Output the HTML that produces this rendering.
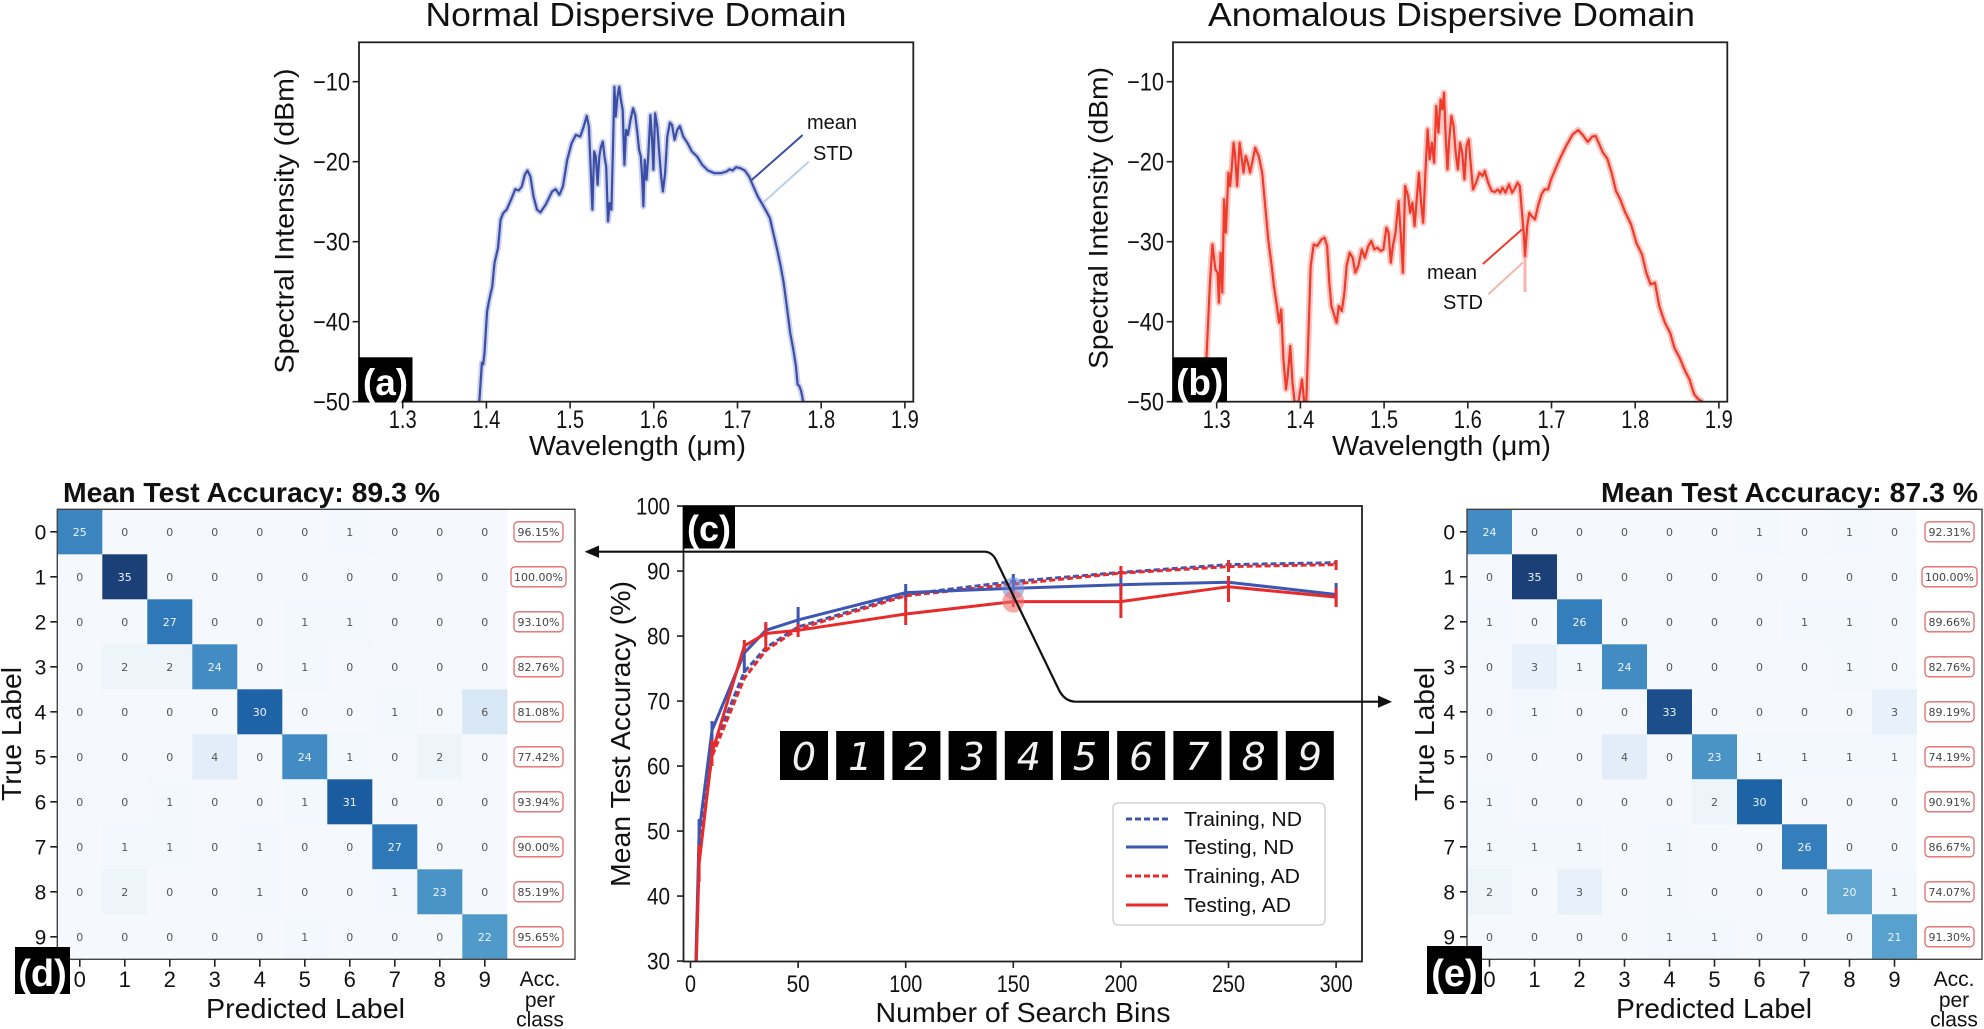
<!DOCTYPE html>
<html><head><meta charset="utf-8"><style>
html,body{margin:0;padding:0;background:#fff;overflow:hidden;width:1984px;height:1029px;}
svg{display:block;font-family:"Liberation Sans",Arial,sans-serif;}
</style></head><body>
<svg width="1984" height="1029" viewBox="0 0 1984 1029" xmlns="http://www.w3.org/2000/svg">
<defs>
<clipPath id="ca"><rect x="359" y="42.3" width="554" height="359.4"/></clipPath>
<clipPath id="cb"><rect x="1173" y="42.3" width="554" height="359.4"/></clipPath>
<clipPath id="cc"><rect x="684" y="506" width="677" height="455"/></clipPath>
</defs>
<rect width="1984" height="1029" fill="#fff"/>

<!-- ===== Panel (a) ===== -->
<text x="636" y="26" font-size="33" text-anchor="middle" textLength="421" lengthAdjust="spacingAndGlyphs" fill="#111">Normal Dispersive Domain</text>
<g clip-path="url(#ca)">
<polyline fill="none" stroke="#b9c1e6" stroke-width="6" stroke-opacity="0.7" stroke-linejoin="round" points="479.3,401.7 481.9,362.7 483.2,364.4 484.5,352.8 487.1,311.2 489.3,299.5 492.3,286.2 494.5,263 498,248 500.6,219.7 503.2,213.1 506.6,209.7 511,199.8 515.3,189.1 518.7,190.5 521.8,186.5 524.8,174.8 527.4,170.5 530.4,176.5 533.5,196.4 537,209.7 540.4,212.4 545.6,204.8 552.1,191.5 555.6,189.1 559.4,194.8 562.9,186.5 567.2,159.9 571.6,143.2 575.9,134.9 580.2,136.6 583.7,126.6 586.7,115.9 588.9,126.6 590.6,166.5 592.4,209.7 594.1,151.5 595.8,156.5 597.6,184.8 599.3,156.5 601,146.6 602.8,141.6 604.5,156.5 606.2,166.5 608,221.4 609.7,203.1 611.4,209.7 613.1,143.2 614.4,86.7 615.7,116.6 617.5,96.7 619.2,86.7 620.9,100 622.7,110 624.4,164.9 626.1,129.9 627.9,134.9 630.5,119.9 633.1,108.3 635.2,115 637.4,133.3 639.1,149.9 640.8,156.5 642.1,176.5 643.4,206.4 644.7,159.9 646.5,179.8 648.2,156.5 650.4,115 652.1,139.9 653.4,169.8 655.1,113.3 657.3,126.6 659,149.9 661.2,176.5 662.9,191.5 665.1,173.2 667.3,136.6 669.9,122.6 672,124.9 674.6,139.9 677.2,130 679.8,126 683.3,136.6 687.6,143.2 691.9,151.5 697.1,156.5 702.3,164.9 708,170.5 714.5,173.2 721,173.2 726.6,171.5 729.6,169.2 732.6,170.5 736.1,167.2 740.4,168.2 744.8,170.5 749.1,176.5 753.4,186.5 757.8,196.4 762.1,203.8 766.4,211.4 769.9,218.1 773.3,233 777.2,249.7 780.7,266.3 783.7,283 787.2,309.5 790.2,332.8 793.3,349.5 795.9,366.1 797.6,384.4 799.3,386 801.1,391 803.2,401.7"/>
<polyline fill="none" stroke="#3b4ea6" stroke-width="2.2" stroke-linejoin="round" points="479.3,401.7 481.9,362.7 483.2,364.4 484.5,352.8 487.1,311.2 489.3,299.5 492.3,286.2 494.5,263 498,248 500.6,219.7 503.2,213.1 506.6,209.7 511,199.8 515.3,189.1 518.7,190.5 521.8,186.5 524.8,174.8 527.4,170.5 530.4,176.5 533.5,196.4 537,209.7 540.4,212.4 545.6,204.8 552.1,191.5 555.6,189.1 559.4,194.8 562.9,186.5 567.2,159.9 571.6,143.2 575.9,134.9 580.2,136.6 583.7,126.6 586.7,115.9 588.9,126.6 590.6,166.5 592.4,209.7 594.1,151.5 595.8,156.5 597.6,184.8 599.3,156.5 601,146.6 602.8,141.6 604.5,156.5 606.2,166.5 608,221.4 609.7,203.1 611.4,209.7 613.1,143.2 614.4,86.7 615.7,116.6 617.5,96.7 619.2,86.7 620.9,100 622.7,110 624.4,164.9 626.1,129.9 627.9,134.9 630.5,119.9 633.1,108.3 635.2,115 637.4,133.3 639.1,149.9 640.8,156.5 642.1,176.5 643.4,206.4 644.7,159.9 646.5,179.8 648.2,156.5 650.4,115 652.1,139.9 653.4,169.8 655.1,113.3 657.3,126.6 659,149.9 661.2,176.5 662.9,191.5 665.1,173.2 667.3,136.6 669.9,122.6 672,124.9 674.6,139.9 677.2,130 679.8,126 683.3,136.6 687.6,143.2 691.9,151.5 697.1,156.5 702.3,164.9 708,170.5 714.5,173.2 721,173.2 726.6,171.5 729.6,169.2 732.6,170.5 736.1,167.2 740.4,168.2 744.8,170.5 749.1,176.5 753.4,186.5 757.8,196.4 762.1,203.8 766.4,211.4 769.9,218.1 773.3,233 777.2,249.7 780.7,266.3 783.7,283 787.2,309.5 790.2,332.8 793.3,349.5 795.9,366.1 797.6,384.4 799.3,386 801.1,391 803.2,401.7"/>
</g>
<rect x="359" y="42.3" width="554.3" height="359.4" fill="none" stroke="#222" stroke-width="1.8"/>
<path d="M352.5 81.7H359M352.5 161.7H359M352.5 241.7H359M352.5 321.7H359M352.5 401.7H359M402.7 401.7V408.5M486.4 401.7V408.5M570.1 401.7V408.5M653.8 401.7V408.5M737.5 401.7V408.5M821.2 401.7V408.5M904.9 401.7V408.5" stroke="#222" stroke-width="1.6"/>
<g font-size="25" fill="#111" text-anchor="end">
<text x="350" y="90.5" textLength="37" lengthAdjust="spacingAndGlyphs">−10</text>
<text x="350" y="170.5" textLength="37" lengthAdjust="spacingAndGlyphs">−20</text>
<text x="350" y="250.5" textLength="37" lengthAdjust="spacingAndGlyphs">−30</text>
<text x="350" y="330.5" textLength="37" lengthAdjust="spacingAndGlyphs">−40</text>
<text x="350" y="410.5" textLength="37" lengthAdjust="spacingAndGlyphs">−50</text>
</g>
<g font-size="25" fill="#111" text-anchor="middle">
<text x="402.7" y="428" textLength="28" lengthAdjust="spacingAndGlyphs">1.3</text>
<text x="486.4" y="428" textLength="28" lengthAdjust="spacingAndGlyphs">1.4</text>
<text x="570.1" y="428" textLength="28" lengthAdjust="spacingAndGlyphs">1.5</text>
<text x="653.8" y="428" textLength="28" lengthAdjust="spacingAndGlyphs">1.6</text>
<text x="737.5" y="428" textLength="28" lengthAdjust="spacingAndGlyphs">1.7</text>
<text x="821.2" y="428" textLength="28" lengthAdjust="spacingAndGlyphs">1.8</text>
<text x="904.9" y="428" textLength="28" lengthAdjust="spacingAndGlyphs">1.9</text>
</g>
<text x="637.5" y="455" font-size="28" text-anchor="middle" textLength="217" lengthAdjust="spacingAndGlyphs" fill="#111">Wavelength (μm)</text>
<text transform="translate(293.5,221) rotate(-90)" font-size="27" text-anchor="middle" textLength="305" lengthAdjust="spacingAndGlyphs" fill="#111">Spectral Intensity (dBm)</text>
<rect x="358.5" y="357.3" width="54" height="44.4" fill="#000"/>
<text x="385.5" y="395" font-size="37" font-weight="bold" fill="#fff" text-anchor="middle">(a)</text>
<line x1="751.7" y1="180" x2="802.7" y2="135" stroke="#3b4ea6" stroke-width="2"/>
<line x1="763.5" y1="202.4" x2="808.9" y2="161.5" stroke="#b7d2ea" stroke-width="2"/>
<text x="807" y="129" font-size="20" fill="#111">mean</text>
<text x="813" y="160" font-size="20" fill="#111">STD</text>

<!-- ===== Panel (b) ===== -->
<text x="1451.5" y="26" font-size="33" text-anchor="middle" textLength="487" lengthAdjust="spacingAndGlyphs" fill="#111">Anomalous Dispersive Domain</text>
<g clip-path="url(#cb)">
<polyline fill="none" stroke="#f7b3ac" stroke-width="6.5" stroke-opacity="0.75" stroke-linejoin="round" points="1204.6,401.7 1206.7,352.7 1209.8,286 1212.4,244.4 1215.4,269.4 1217.6,272.7 1218.9,302.7 1220.6,252.7 1222.3,292.7 1224.1,199.4 1225.8,232.7 1228.4,172.7 1230.1,186 1231.9,166 1233.6,142.7 1234.9,152.7 1237.1,186 1239.6,142.7 1241.4,156 1243.5,172.7 1245.7,156 1247.9,162.7 1250,172.7 1252.2,162.7 1255.2,147.7 1258.7,156 1262.2,172.7 1265.2,206 1268.2,239.4 1271.7,266 1273.9,286 1276.9,306 1279.1,322.7 1281.2,309.4 1283.4,359.4 1286,389.4 1287.7,376 1290.3,346 1292.5,382.7 1294.6,401.7 1298.5,401.7 1302,379.4 1304.2,401.7 1306.3,401.7 1308.5,332.7 1310.7,266 1313.7,244.4 1317.2,246 1321.5,239.4 1324.5,237.7 1327.1,246 1329.3,282.7 1331.4,306 1334.5,316 1336.6,322.7 1338.8,306 1341.8,311 1344.4,292.7 1346.6,266 1349.6,252.7 1352.7,257.7 1355.3,272.7 1358.3,266 1361.8,249.4 1364.8,257.7 1368.3,246 1371.3,241 1374.3,249.4 1377.3,247.7 1380.8,251 1383.4,249.4 1386.4,227.7 1388.6,232.7 1390.8,262.7 1392.9,246 1395.5,232.7 1398.6,201 1400.7,232.7 1402.9,272.7 1405.1,186 1408.1,196 1410.2,212.7 1412.4,202.7 1414.6,226 1416.7,199.4 1418.9,172.7 1421.1,202.7 1423.2,222.7 1425.4,172.7 1427.6,129.4 1429.7,159.4 1431.9,142.7 1434.1,162.7 1436.2,106 1438.4,132.7 1440.6,99.4 1442.3,109.4 1444,92.7 1445.8,139.4 1447.5,169.4 1449.2,139.4 1451.4,116 1453.6,126 1455.7,152.7 1457.9,169.4 1460,142.7 1462.2,152.7 1464.4,179.4 1466.5,146 1468.7,139.4 1470.9,166 1473,189.4 1476.1,182.7 1479.5,172.7 1482.6,176 1484.7,171 1488.2,182.7 1491.6,191 1494.7,192 1497.7,189.4 1500.3,192.7 1502.5,187.7 1505.5,192.7 1509,184.4 1512,192.7 1514.2,189.4 1517.6,182.7 1519.8,186 1522,212.7 1523.7,232.7 1525,256 1527.2,226 1529.3,212.7 1531.5,216 1535,219.4 1538,206 1541.5,194.4 1544.5,189.4 1548,189.4 1551,179.4 1555.3,169.4 1559.6,159.4 1566.1,146 1572.6,134.4 1578.3,130 1583.5,136 1587.8,142 1592.1,136.7 1595.6,136 1598.6,142.7 1603,152.7 1607.3,158.7 1611.6,172.7 1616,191 1620.3,199.4 1624.6,211 1631.1,224.4 1636.3,242.7 1642,254.4 1646.3,272.7 1650.6,284.4 1655,282.7 1659.2,306 1664.9,322.7 1670.1,332.7 1674.4,347.7 1679.6,357.7 1685.2,371 1689.5,379.4 1694.2,394.4 1698.5,399.4 1702.8,401.7"/>
<line x1="1525" y1="240" x2="1525" y2="292" stroke="#f7b3ac" stroke-width="3"/>
<polyline fill="none" stroke="#ee3b2c" stroke-width="2.2" stroke-linejoin="round" points="1204.6,401.7 1206.7,352.7 1209.8,286 1212.4,244.4 1215.4,269.4 1217.6,272.7 1218.9,302.7 1220.6,252.7 1222.3,292.7 1224.1,199.4 1225.8,232.7 1228.4,172.7 1230.1,186 1231.9,166 1233.6,142.7 1234.9,152.7 1237.1,186 1239.6,142.7 1241.4,156 1243.5,172.7 1245.7,156 1247.9,162.7 1250,172.7 1252.2,162.7 1255.2,147.7 1258.7,156 1262.2,172.7 1265.2,206 1268.2,239.4 1271.7,266 1273.9,286 1276.9,306 1279.1,322.7 1281.2,309.4 1283.4,359.4 1286,389.4 1287.7,376 1290.3,346 1292.5,382.7 1294.6,401.7 1298.5,401.7 1302,379.4 1304.2,401.7 1306.3,401.7 1308.5,332.7 1310.7,266 1313.7,244.4 1317.2,246 1321.5,239.4 1324.5,237.7 1327.1,246 1329.3,282.7 1331.4,306 1334.5,316 1336.6,322.7 1338.8,306 1341.8,311 1344.4,292.7 1346.6,266 1349.6,252.7 1352.7,257.7 1355.3,272.7 1358.3,266 1361.8,249.4 1364.8,257.7 1368.3,246 1371.3,241 1374.3,249.4 1377.3,247.7 1380.8,251 1383.4,249.4 1386.4,227.7 1388.6,232.7 1390.8,262.7 1392.9,246 1395.5,232.7 1398.6,201 1400.7,232.7 1402.9,272.7 1405.1,186 1408.1,196 1410.2,212.7 1412.4,202.7 1414.6,226 1416.7,199.4 1418.9,172.7 1421.1,202.7 1423.2,222.7 1425.4,172.7 1427.6,129.4 1429.7,159.4 1431.9,142.7 1434.1,162.7 1436.2,106 1438.4,132.7 1440.6,99.4 1442.3,109.4 1444,92.7 1445.8,139.4 1447.5,169.4 1449.2,139.4 1451.4,116 1453.6,126 1455.7,152.7 1457.9,169.4 1460,142.7 1462.2,152.7 1464.4,179.4 1466.5,146 1468.7,139.4 1470.9,166 1473,189.4 1476.1,182.7 1479.5,172.7 1482.6,176 1484.7,171 1488.2,182.7 1491.6,191 1494.7,192 1497.7,189.4 1500.3,192.7 1502.5,187.7 1505.5,192.7 1509,184.4 1512,192.7 1514.2,189.4 1517.6,182.7 1519.8,186 1522,212.7 1523.7,232.7 1525,256 1527.2,226 1529.3,212.7 1531.5,216 1535,219.4 1538,206 1541.5,194.4 1544.5,189.4 1548,189.4 1551,179.4 1555.3,169.4 1559.6,159.4 1566.1,146 1572.6,134.4 1578.3,130 1583.5,136 1587.8,142 1592.1,136.7 1595.6,136 1598.6,142.7 1603,152.7 1607.3,158.7 1611.6,172.7 1616,191 1620.3,199.4 1624.6,211 1631.1,224.4 1636.3,242.7 1642,254.4 1646.3,272.7 1650.6,284.4 1655,282.7 1659.2,306 1664.9,322.7 1670.1,332.7 1674.4,347.7 1679.6,357.7 1685.2,371 1689.5,379.4 1694.2,394.4 1698.5,399.4 1702.8,401.7"/>
</g>
<rect x="1173" y="42.3" width="554.3" height="359.4" fill="none" stroke="#222" stroke-width="1.8"/>
<path d="M1166.5 81.7H1173M1166.5 161.7H1173M1166.5 241.7H1173M1166.5 321.7H1173M1166.5 401.7H1173M1216.7 401.7V408.5M1300.4 401.7V408.5M1384.1 401.7V408.5M1467.8 401.7V408.5M1551.5 401.7V408.5M1635.2 401.7V408.5M1718.9 401.7V408.5" stroke="#222" stroke-width="1.6"/>
<g font-size="25" fill="#111" text-anchor="end">
<text x="1164" y="90.5" textLength="37" lengthAdjust="spacingAndGlyphs">−10</text>
<text x="1164" y="170.5" textLength="37" lengthAdjust="spacingAndGlyphs">−20</text>
<text x="1164" y="250.5" textLength="37" lengthAdjust="spacingAndGlyphs">−30</text>
<text x="1164" y="330.5" textLength="37" lengthAdjust="spacingAndGlyphs">−40</text>
<text x="1164" y="410.5" textLength="37" lengthAdjust="spacingAndGlyphs">−50</text>
</g>
<g font-size="25" fill="#111" text-anchor="middle">
<text x="1216.7" y="428" textLength="28" lengthAdjust="spacingAndGlyphs">1.3</text>
<text x="1300.4" y="428" textLength="28" lengthAdjust="spacingAndGlyphs">1.4</text>
<text x="1384.1" y="428" textLength="28" lengthAdjust="spacingAndGlyphs">1.5</text>
<text x="1467.8" y="428" textLength="28" lengthAdjust="spacingAndGlyphs">1.6</text>
<text x="1551.5" y="428" textLength="28" lengthAdjust="spacingAndGlyphs">1.7</text>
<text x="1635.2" y="428" textLength="28" lengthAdjust="spacingAndGlyphs">1.8</text>
<text x="1718.9" y="428" textLength="28" lengthAdjust="spacingAndGlyphs">1.9</text>
</g>
<text x="1441.5" y="455" font-size="28" text-anchor="middle" textLength="219" lengthAdjust="spacingAndGlyphs" fill="#111">Wavelength (μm)</text>
<text transform="translate(1107.5,218) rotate(-90)" font-size="27" text-anchor="middle" textLength="302" lengthAdjust="spacingAndGlyphs" fill="#111">Spectral Intensity (dBm)</text>
<rect x="1172.5" y="357.3" width="54.5" height="44.4" fill="#000"/>
<text x="1199.7" y="395" font-size="37" font-weight="bold" fill="#fff" text-anchor="middle">(b)</text>
<line x1="1482.9" y1="264" x2="1522" y2="229.4" stroke="#ee3b2c" stroke-width="2"/>
<line x1="1488.3" y1="294.3" x2="1522.9" y2="262.5" stroke="#f5b5ae" stroke-width="2"/>
<text x="1427" y="279" font-size="20" fill="#111">mean</text>
<text x="1443" y="309" font-size="20" fill="#111">STD</text>

<!-- ===== Panel (c) ===== -->
<g clip-path="url(#cc)">
<g fill="#000">
<rect x="780" y="731" width="48" height="49"/><rect x="836.2" y="731" width="48" height="49"/><rect x="892.4" y="731" width="48" height="49"/><rect x="948.6" y="731" width="48" height="49"/><rect x="1004.8" y="731" width="48" height="49"/><rect x="1061" y="731" width="48" height="49"/><rect x="1117.2" y="731" width="48" height="49"/><rect x="1173.4" y="731" width="48" height="49"/><rect x="1229.6" y="731" width="48" height="49"/><rect x="1285.8" y="731" width="48" height="49"/>
</g>
<g fill="#f2f2f2" font-family="'DejaVu Sans',sans-serif" font-size="38" font-style="oblique" text-anchor="middle">
<text x="804" y="770">0</text><text x="860.2" y="770">1</text><text x="916.4" y="770">2</text><text x="972.6" y="770">3</text><text x="1028.8" y="770">4</text><text x="1085" y="770">5</text><text x="1141.2" y="770">6</text><text x="1197.4" y="770">7</text><text x="1253.6" y="770">8</text><text x="1309.8" y="770">9</text>
</g>
<polyline fill="none" stroke="#3d56b2" stroke-width="3" stroke-dasharray="6,3" points="696.1,961.1 699.1,844.1 712,749.9 744.3,671.9 765.8,647.8 798.1,627 905.7,594.5 1013.3,581.5 1120.9,572.4 1228.5,564.6 1336.1,562.7"/>
<polyline fill="none" stroke="#e82a2a" stroke-width="3" stroke-dasharray="6,3" points="696.2,961.1 699.1,857.1 712,756.3 744.3,678.4 765.8,650.4 798.1,628.9 905.7,595.8 1013.3,584.1 1120.9,573.1 1228.5,566.6 1336.1,564.6"/>
<polyline fill="none" stroke="#3d56b2" stroke-width="3" points="695.9,961.1 699.1,832.4 712,730.4 744.3,653 765.8,630.3 798.1,619.9 905.7,592.6 1013.3,588.3 1120.9,584.7 1228.5,582.2 1336.1,594.5"/>
<polyline fill="none" stroke="#e82a2a" stroke-width="3" points="696.3,961.1 699.1,863.6 712,753.1 744.3,645.9 765.8,633.5 798.1,630.3 905.7,614 1013.3,601.6 1120.9,601.6 1228.5,586.7 1336.1,597.1"/>
<path d="M699.1 819V846M712 721V740M744.3 646V673M765.8 624V637M798.1 607V633M905.7 584V601M1013.3 578V598M1120.9 575V595M1228.5 579V586M1336.1 583V606M1013.3 574V590" stroke="#3d56b2" stroke-width="3"/>
<path d="M699.1 845V882M712 740V766M744.3 640V652M765.8 622V652M798.1 624V637M905.7 597V625M1013.3 596V607M1120.9 584V618M1228.5 576V602M1336.1 588V607M1336.1 560V570M1228.5 560V572M1120.9 566V578" stroke="#e82a2a" stroke-width="3"/>
<circle cx="1013.3" cy="588.3" r="11" fill="#6f86d2" fill-opacity="0.55"/>
<circle cx="1013.3" cy="601.6" r="11" fill="#f07070" fill-opacity="0.6"/>
</g>
<rect x="1113" y="803" width="212" height="122" rx="5" fill="#fff" fill-opacity="0.9" stroke="#d4d4d4" stroke-width="1.5"/>
<line x1="1126" y1="819" x2="1168" y2="819" stroke="#3d56b2" stroke-width="3" stroke-dasharray="6,3"/>
<line x1="1126" y1="847" x2="1168" y2="847" stroke="#3d56b2" stroke-width="3"/>
<line x1="1126" y1="876" x2="1168" y2="876" stroke="#e82a2a" stroke-width="3" stroke-dasharray="6,3"/>
<line x1="1126" y1="905" x2="1168" y2="905" stroke="#e82a2a" stroke-width="3"/>
<g font-size="20" fill="#111">
<text x="1184" y="826" textLength="118" lengthAdjust="spacingAndGlyphs">Training, ND</text>
<text x="1184" y="854" textLength="110" lengthAdjust="spacingAndGlyphs">Testing, ND</text>
<text x="1184" y="883" textLength="116" lengthAdjust="spacingAndGlyphs">Training, AD</text>
<text x="1184" y="912" textLength="107" lengthAdjust="spacingAndGlyphs">Testing, AD</text>
</g>
<rect x="683.5" y="506" width="678.5" height="455.5" fill="none" stroke="#222" stroke-width="1.8"/>
<path d="M677 506.1H683.5M677 571.1H683.5M677 636.1H683.5M677 701.1H683.5M677 766.1H683.5M677 831.1H683.5M677 896.1H683.5M677 961.1H683.5M690.5 961.5V968M798.1 961.5V968M905.7 961.5V968M1013.3 961.5V968M1120.9 961.5V968M1228.5 961.5V968M1336.1 961.5V968" stroke="#222" stroke-width="1.6"/>
<g font-size="24" fill="#111" text-anchor="end">
<text x="670" y="514.6" textLength="34" lengthAdjust="spacingAndGlyphs">100</text>
<text x="670" y="579.6" textLength="23" lengthAdjust="spacingAndGlyphs">90</text>
<text x="670" y="644.6" textLength="23" lengthAdjust="spacingAndGlyphs">80</text>
<text x="670" y="709.6" textLength="23" lengthAdjust="spacingAndGlyphs">70</text>
<text x="670" y="774.6" textLength="23" lengthAdjust="spacingAndGlyphs">60</text>
<text x="670" y="839.6" textLength="23" lengthAdjust="spacingAndGlyphs">50</text>
<text x="670" y="904.6" textLength="23" lengthAdjust="spacingAndGlyphs">40</text>
<text x="670" y="969.6" textLength="23" lengthAdjust="spacingAndGlyphs">30</text>
</g>
<g font-size="24" fill="#111" text-anchor="middle">
<text x="690.5" y="992" textLength="11" lengthAdjust="spacingAndGlyphs">0</text>
<text x="798.1" y="992" textLength="23" lengthAdjust="spacingAndGlyphs">50</text>
<text x="905.7" y="992" textLength="33" lengthAdjust="spacingAndGlyphs">100</text>
<text x="1013.3" y="992" textLength="33" lengthAdjust="spacingAndGlyphs">150</text>
<text x="1120.9" y="992" textLength="33" lengthAdjust="spacingAndGlyphs">200</text>
<text x="1228.5" y="992" textLength="33" lengthAdjust="spacingAndGlyphs">250</text>
<text x="1336.1" y="992" textLength="33" lengthAdjust="spacingAndGlyphs">300</text>
</g>
<text x="1023" y="1022" font-size="28" text-anchor="middle" textLength="295" lengthAdjust="spacingAndGlyphs" fill="#111">Number of Search Bins</text>
<text transform="translate(630,734) rotate(-90)" font-size="28" text-anchor="middle" textLength="306" lengthAdjust="spacingAndGlyphs" fill="#111">Mean Test Accuracy (%)</text>
<rect x="683" y="506" width="52" height="42.5" fill="#000"/>
<text x="709" y="541" font-size="36" font-weight="bold" fill="#fff" text-anchor="middle">(c)</text>
<path d="M596 551.7H984Q992 551.7 996 560L1058 688Q1064 701.7 1076 701.7H1380" fill="none" stroke="#111" stroke-width="2.2"/>
<polygon points="584.6,551.7 599,545.5 599,557.9" fill="#111"/>
<polygon points="1392,701.7 1378,695.5 1378,707.9" fill="#111"/>

<!-- ===== Panel (d) ===== -->
<text x="63" y="502" font-size="28" font-weight="bold" textLength="377" lengthAdjust="spacingAndGlyphs" fill="#111">Mean Test Accuracy: 89.3 %</text>
<g transform="translate(57.3,509.3)">
<rect x="0" y="0" width="517.7" height="450" fill="#fff"/>
<rect x="0" y="0" width="450" height="450" fill="#f5f8fc"/>
<g fill-opacity="0.92">
<rect x="0" y="0" width="45" height="45" fill="#2a7aba"/><rect x="270" y="0" width="45" height="45" fill="#f1f7fd"/>
<rect x="45" y="45" width="45" height="45" fill="#08306b"/>
<rect x="90" y="90" width="45" height="45" fill="#1d6cb1"/><rect x="225" y="90" width="45" height="45" fill="#f1f7fd"/><rect x="270" y="90" width="45" height="45" fill="#f1f7fd"/>
<rect x="45" y="135" width="45" height="45" fill="#ecf4fb"/><rect x="90" y="135" width="45" height="45" fill="#ecf4fb"/><rect x="135" y="135" width="45" height="45" fill="#3282be"/><rect x="225" y="135" width="45" height="45" fill="#f1f7fd"/>
<rect x="180" y="180" width="45" height="45" fill="#0c56a0"/><rect x="315" y="180" width="45" height="45" fill="#f1f7fd"/><rect x="405" y="180" width="45" height="45" fill="#d5e5f4"/>
<rect x="135" y="225" width="45" height="45" fill="#e0ecf8"/><rect x="225" y="225" width="45" height="45" fill="#3282be"/><rect x="270" y="225" width="45" height="45" fill="#f1f7fd"/><rect x="360" y="225" width="45" height="45" fill="#ecf4fb"/>
<rect x="90" y="270" width="45" height="45" fill="#f1f7fd"/><rect x="225" y="270" width="45" height="45" fill="#f1f7fd"/><rect x="270" y="270" width="45" height="45" fill="#084e98"/>
<rect x="45" y="315" width="45" height="45" fill="#f1f7fd"/><rect x="90" y="315" width="45" height="45" fill="#f1f7fd"/><rect x="180" y="315" width="45" height="45" fill="#f1f7fd"/><rect x="315" y="315" width="45" height="45" fill="#1d6cb1"/>
<rect x="45" y="360" width="45" height="45" fill="#ecf4fb"/><rect x="180" y="360" width="45" height="45" fill="#f1f7fd"/><rect x="315" y="360" width="45" height="45" fill="#f1f7fd"/><rect x="360" y="360" width="45" height="45" fill="#3a8ac2"/>
<rect x="225" y="405" width="45" height="45" fill="#f1f7fd"/><rect x="405" y="405" width="45" height="45" fill="#4191c6"/>
</g>
<g font-family="'DejaVu Sans',sans-serif" font-size="11" fill="#555" text-anchor="middle">
<text x="22.5" y="26.5" fill="#eef3fa">25</text><text x="67.5" y="26.5">0</text><text x="112.5" y="26.5">0</text><text x="157.5" y="26.5">0</text><text x="202.5" y="26.5">0</text><text x="247.5" y="26.5">0</text><text x="292.5" y="26.5">1</text><text x="337.5" y="26.5">0</text><text x="382.5" y="26.5">0</text><text x="427.5" y="26.5">0</text>
<text x="22.5" y="71.5">0</text><text x="67.5" y="71.5" fill="#eef3fa">35</text><text x="112.5" y="71.5">0</text><text x="157.5" y="71.5">0</text><text x="202.5" y="71.5">0</text><text x="247.5" y="71.5">0</text><text x="292.5" y="71.5">0</text><text x="337.5" y="71.5">0</text><text x="382.5" y="71.5">0</text><text x="427.5" y="71.5">0</text>
<text x="22.5" y="116.5">0</text><text x="67.5" y="116.5">0</text><text x="112.5" y="116.5" fill="#eef3fa">27</text><text x="157.5" y="116.5">0</text><text x="202.5" y="116.5">0</text><text x="247.5" y="116.5">1</text><text x="292.5" y="116.5">1</text><text x="337.5" y="116.5">0</text><text x="382.5" y="116.5">0</text><text x="427.5" y="116.5">0</text>
<text x="22.5" y="161.5">0</text><text x="67.5" y="161.5">2</text><text x="112.5" y="161.5">2</text><text x="157.5" y="161.5" fill="#eef3fa">24</text><text x="202.5" y="161.5">0</text><text x="247.5" y="161.5">1</text><text x="292.5" y="161.5">0</text><text x="337.5" y="161.5">0</text><text x="382.5" y="161.5">0</text><text x="427.5" y="161.5">0</text>
<text x="22.5" y="206.5">0</text><text x="67.5" y="206.5">0</text><text x="112.5" y="206.5">0</text><text x="157.5" y="206.5">0</text><text x="202.5" y="206.5" fill="#eef3fa">30</text><text x="247.5" y="206.5">0</text><text x="292.5" y="206.5">0</text><text x="337.5" y="206.5">1</text><text x="382.5" y="206.5">0</text><text x="427.5" y="206.5">6</text>
<text x="22.5" y="251.5">0</text><text x="67.5" y="251.5">0</text><text x="112.5" y="251.5">0</text><text x="157.5" y="251.5">4</text><text x="202.5" y="251.5">0</text><text x="247.5" y="251.5" fill="#eef3fa">24</text><text x="292.5" y="251.5">1</text><text x="337.5" y="251.5">0</text><text x="382.5" y="251.5">2</text><text x="427.5" y="251.5">0</text>
<text x="22.5" y="296.5">0</text><text x="67.5" y="296.5">0</text><text x="112.5" y="296.5">1</text><text x="157.5" y="296.5">0</text><text x="202.5" y="296.5">0</text><text x="247.5" y="296.5">1</text><text x="292.5" y="296.5" fill="#eef3fa">31</text><text x="337.5" y="296.5">0</text><text x="382.5" y="296.5">0</text><text x="427.5" y="296.5">0</text>
<text x="22.5" y="341.5">0</text><text x="67.5" y="341.5">1</text><text x="112.5" y="341.5">1</text><text x="157.5" y="341.5">0</text><text x="202.5" y="341.5">1</text><text x="247.5" y="341.5">0</text><text x="292.5" y="341.5">0</text><text x="337.5" y="341.5" fill="#eef3fa">27</text><text x="382.5" y="341.5">0</text><text x="427.5" y="341.5">0</text>
<text x="22.5" y="386.5">0</text><text x="67.5" y="386.5">2</text><text x="112.5" y="386.5">0</text><text x="157.5" y="386.5">0</text><text x="202.5" y="386.5">1</text><text x="247.5" y="386.5">0</text><text x="292.5" y="386.5">0</text><text x="337.5" y="386.5">1</text><text x="382.5" y="386.5" fill="#eef3fa">23</text><text x="427.5" y="386.5">0</text>
<text x="22.5" y="431.5">0</text><text x="67.5" y="431.5">0</text><text x="112.5" y="431.5">0</text><text x="157.5" y="431.5">0</text><text x="202.5" y="431.5">0</text><text x="247.5" y="431.5">1</text><text x="292.5" y="431.5">0</text><text x="337.5" y="431.5">0</text><text x="382.5" y="431.5">0</text><text x="427.5" y="431.5" fill="#eef3fa">22</text>
</g>
<g fill="#fff" stroke="#e36b6b" stroke-width="1.3">
<rect x="456.7" y="12.5" width="49" height="20" rx="4"/><rect x="453.7" y="57.5" width="55" height="20" rx="4"/><rect x="456.7" y="102.5" width="49" height="20" rx="4"/><rect x="456.7" y="147.5" width="49" height="20" rx="4"/><rect x="456.7" y="192.5" width="49" height="20" rx="4"/><rect x="456.7" y="237.5" width="49" height="20" rx="4"/><rect x="456.7" y="282.5" width="49" height="20" rx="4"/><rect x="456.7" y="327.5" width="49" height="20" rx="4"/><rect x="456.7" y="372.5" width="49" height="20" rx="4"/><rect x="456.7" y="417.5" width="49" height="20" rx="4"/>
</g>
<g font-family="'DejaVu Sans',sans-serif" font-size="11" fill="#444" text-anchor="middle">
<text x="481.2" y="26.5">96.15%</text><text x="481.2" y="71.5">100.00%</text><text x="481.2" y="116.5">93.10%</text><text x="481.2" y="161.5">82.76%</text><text x="481.2" y="206.5">81.08%</text><text x="481.2" y="251.5">77.42%</text><text x="481.2" y="296.5">93.94%</text><text x="481.2" y="341.5">90.00%</text><text x="481.2" y="386.5">85.19%</text><text x="481.2" y="431.5">95.65%</text>
</g>
<rect x="0" y="0" width="517.7" height="450" fill="none" stroke="#444" stroke-width="1.4"/>
<path d="M-7 22.5H0M-7 67.5H0M-7 112.5H0M-7 157.5H0M-7 202.5H0M-7 247.5H0M-7 292.5H0M-7 337.5H0M-7 382.5H0M-7 427.5H0M22.5 450V457.5M67.5 450V457.5M112.5 450V457.5M157.5 450V457.5M202.5 450V457.5M247.5 450V457.5M292.5 450V457.5M337.5 450V457.5M382.5 450V457.5M427.5 450V457.5" stroke="#222" stroke-width="1.6"/>
<g font-size="21" fill="#111" text-anchor="end">
<text x="-11" y="30">0</text><text x="-11" y="75">1</text><text x="-11" y="120">2</text><text x="-11" y="165">3</text><text x="-11" y="210">4</text><text x="-11" y="255">5</text><text x="-11" y="300">6</text><text x="-11" y="345">7</text><text x="-11" y="390">8</text><text x="-11" y="435">9</text>
</g>
<g font-size="22" fill="#111" text-anchor="middle">
<text x="22.5" y="477.7">0</text><text x="67.5" y="477.7">1</text><text x="112.5" y="477.7">2</text><text x="157.5" y="477.7">3</text><text x="202.5" y="477.7">4</text><text x="247.5" y="477.7">5</text><text x="292.5" y="477.7">6</text><text x="337.5" y="477.7">7</text><text x="382.5" y="477.7">8</text><text x="427.5" y="477.7">9</text>
<text x="482.7" y="476.7" font-size="21">Acc.</text><text x="482.7" y="497.7" font-size="21">per</text><text x="482.7" y="517" font-size="21">class</text>
</g>
</g>
<text x="305.5" y="1018" font-size="28" text-anchor="middle" textLength="199" lengthAdjust="spacingAndGlyphs" fill="#111">Predicted Label</text>
<text transform="translate(21,734) rotate(-90)" font-size="28" text-anchor="middle" textLength="134" lengthAdjust="spacingAndGlyphs" fill="#111">True Label</text>
<rect x="15" y="947" width="55" height="47" fill="#000"/>
<text x="42.5" y="986" font-size="38" font-weight="bold" fill="#fff" text-anchor="middle">(d)</text>

<!-- ===== Panel (e) ===== -->
<text x="1601" y="502" font-size="28" font-weight="bold" textLength="377" lengthAdjust="spacingAndGlyphs" fill="#111">Mean Test Accuracy: 87.3 %</text>
<g transform="translate(1467,509.3)">
<rect x="0" y="0" width="515" height="450" fill="#fff"/>
<rect x="0" y="0" width="450" height="450" fill="#f5f8fc"/>
<g fill-opacity="0.92">
<rect x="0" y="0" width="45" height="45" fill="#3282be"/><rect x="270" y="0" width="45" height="45" fill="#f1f7fd"/><rect x="360" y="0" width="45" height="45" fill="#f1f7fd"/>
<rect x="45" y="45" width="45" height="45" fill="#08306b"/>
<rect x="0" y="90" width="45" height="45" fill="#f1f7fd"/><rect x="90" y="90" width="45" height="45" fill="#2373b6"/><rect x="315" y="90" width="45" height="45" fill="#f1f7fd"/><rect x="360" y="90" width="45" height="45" fill="#f1f7fd"/>
<rect x="45" y="135" width="45" height="45" fill="#e6f0f9"/><rect x="90" y="135" width="45" height="45" fill="#f1f7fd"/><rect x="135" y="135" width="45" height="45" fill="#3282be"/><rect x="360" y="135" width="45" height="45" fill="#f1f7fd"/>
<rect x="45" y="180" width="45" height="45" fill="#f1f7fd"/><rect x="180" y="180" width="45" height="45" fill="#083f81"/><rect x="405" y="180" width="45" height="45" fill="#e6f0f9"/>
<rect x="135" y="225" width="45" height="45" fill="#e0ecf8"/><rect x="225" y="225" width="45" height="45" fill="#3a8ac2"/><rect x="270" y="225" width="45" height="45" fill="#f1f7fd"/><rect x="315" y="225" width="45" height="45" fill="#f1f7fd"/><rect x="360" y="225" width="45" height="45" fill="#f1f7fd"/><rect x="405" y="225" width="45" height="45" fill="#f1f7fd"/>
<rect x="0" y="270" width="45" height="45" fill="#f1f7fd"/><rect x="225" y="270" width="45" height="45" fill="#ecf4fb"/><rect x="270" y="270" width="45" height="45" fill="#0c56a0"/>
<rect x="0" y="315" width="45" height="45" fill="#f1f7fd"/><rect x="45" y="315" width="45" height="45" fill="#f1f7fd"/><rect x="90" y="315" width="45" height="45" fill="#f1f7fd"/><rect x="180" y="315" width="45" height="45" fill="#f1f7fd"/><rect x="315" y="315" width="45" height="45" fill="#2373b6"/>
<rect x="0" y="360" width="45" height="45" fill="#ecf4fb"/><rect x="90" y="360" width="45" height="45" fill="#e6f0f9"/><rect x="180" y="360" width="45" height="45" fill="#f1f7fd"/><rect x="360" y="360" width="45" height="45" fill="#549ecd"/><rect x="405" y="360" width="45" height="45" fill="#f1f7fd"/>
<rect x="180" y="405" width="45" height="45" fill="#f1f7fd"/><rect x="225" y="405" width="45" height="45" fill="#f1f7fd"/><rect x="405" y="405" width="45" height="45" fill="#4a98c9"/>
</g>
<g font-family="'DejaVu Sans',sans-serif" font-size="11" fill="#555" text-anchor="middle">
<text x="22.5" y="26.5" fill="#eef3fa">24</text><text x="67.5" y="26.5">0</text><text x="112.5" y="26.5">0</text><text x="157.5" y="26.5">0</text><text x="202.5" y="26.5">0</text><text x="247.5" y="26.5">0</text><text x="292.5" y="26.5">1</text><text x="337.5" y="26.5">0</text><text x="382.5" y="26.5">1</text><text x="427.5" y="26.5">0</text>
<text x="22.5" y="71.5">0</text><text x="67.5" y="71.5" fill="#eef3fa">35</text><text x="112.5" y="71.5">0</text><text x="157.5" y="71.5">0</text><text x="202.5" y="71.5">0</text><text x="247.5" y="71.5">0</text><text x="292.5" y="71.5">0</text><text x="337.5" y="71.5">0</text><text x="382.5" y="71.5">0</text><text x="427.5" y="71.5">0</text>
<text x="22.5" y="116.5">1</text><text x="67.5" y="116.5">0</text><text x="112.5" y="116.5" fill="#eef3fa">26</text><text x="157.5" y="116.5">0</text><text x="202.5" y="116.5">0</text><text x="247.5" y="116.5">0</text><text x="292.5" y="116.5">0</text><text x="337.5" y="116.5">1</text><text x="382.5" y="116.5">1</text><text x="427.5" y="116.5">0</text>
<text x="22.5" y="161.5">0</text><text x="67.5" y="161.5">3</text><text x="112.5" y="161.5">1</text><text x="157.5" y="161.5" fill="#eef3fa">24</text><text x="202.5" y="161.5">0</text><text x="247.5" y="161.5">0</text><text x="292.5" y="161.5">0</text><text x="337.5" y="161.5">0</text><text x="382.5" y="161.5">1</text><text x="427.5" y="161.5">0</text>
<text x="22.5" y="206.5">0</text><text x="67.5" y="206.5">1</text><text x="112.5" y="206.5">0</text><text x="157.5" y="206.5">0</text><text x="202.5" y="206.5" fill="#eef3fa">33</text><text x="247.5" y="206.5">0</text><text x="292.5" y="206.5">0</text><text x="337.5" y="206.5">0</text><text x="382.5" y="206.5">0</text><text x="427.5" y="206.5">3</text>
<text x="22.5" y="251.5">0</text><text x="67.5" y="251.5">0</text><text x="112.5" y="251.5">0</text><text x="157.5" y="251.5">4</text><text x="202.5" y="251.5">0</text><text x="247.5" y="251.5" fill="#eef3fa">23</text><text x="292.5" y="251.5">1</text><text x="337.5" y="251.5">1</text><text x="382.5" y="251.5">1</text><text x="427.5" y="251.5">1</text>
<text x="22.5" y="296.5">1</text><text x="67.5" y="296.5">0</text><text x="112.5" y="296.5">0</text><text x="157.5" y="296.5">0</text><text x="202.5" y="296.5">0</text><text x="247.5" y="296.5">2</text><text x="292.5" y="296.5" fill="#eef3fa">30</text><text x="337.5" y="296.5">0</text><text x="382.5" y="296.5">0</text><text x="427.5" y="296.5">0</text>
<text x="22.5" y="341.5">1</text><text x="67.5" y="341.5">1</text><text x="112.5" y="341.5">1</text><text x="157.5" y="341.5">0</text><text x="202.5" y="341.5">1</text><text x="247.5" y="341.5">0</text><text x="292.5" y="341.5">0</text><text x="337.5" y="341.5" fill="#eef3fa">26</text><text x="382.5" y="341.5">0</text><text x="427.5" y="341.5">0</text>
<text x="22.5" y="386.5">2</text><text x="67.5" y="386.5">0</text><text x="112.5" y="386.5">3</text><text x="157.5" y="386.5">0</text><text x="202.5" y="386.5">1</text><text x="247.5" y="386.5">0</text><text x="292.5" y="386.5">0</text><text x="337.5" y="386.5">0</text><text x="382.5" y="386.5" fill="#eef3fa">20</text><text x="427.5" y="386.5">1</text>
<text x="22.5" y="431.5">0</text><text x="67.5" y="431.5">0</text><text x="112.5" y="431.5">0</text><text x="157.5" y="431.5">0</text><text x="202.5" y="431.5">1</text><text x="247.5" y="431.5">1</text><text x="292.5" y="431.5">0</text><text x="337.5" y="431.5">0</text><text x="382.5" y="431.5">0</text><text x="427.5" y="431.5" fill="#eef3fa">21</text>
</g>
<g fill="#fff" stroke="#e36b6b" stroke-width="1.3">
<rect x="458" y="12.5" width="49" height="20" rx="4"/><rect x="455" y="57.5" width="55" height="20" rx="4"/><rect x="458" y="102.5" width="49" height="20" rx="4"/><rect x="458" y="147.5" width="49" height="20" rx="4"/><rect x="458" y="192.5" width="49" height="20" rx="4"/><rect x="458" y="237.5" width="49" height="20" rx="4"/><rect x="458" y="282.5" width="49" height="20" rx="4"/><rect x="458" y="327.5" width="49" height="20" rx="4"/><rect x="458" y="372.5" width="49" height="20" rx="4"/><rect x="458" y="417.5" width="49" height="20" rx="4"/>
</g>
<g font-family="'DejaVu Sans',sans-serif" font-size="11" fill="#444" text-anchor="middle">
<text x="482.5" y="26.5">92.31%</text><text x="482.5" y="71.5">100.00%</text><text x="482.5" y="116.5">89.66%</text><text x="482.5" y="161.5">82.76%</text><text x="482.5" y="206.5">89.19%</text><text x="482.5" y="251.5">74.19%</text><text x="482.5" y="296.5">90.91%</text><text x="482.5" y="341.5">86.67%</text><text x="482.5" y="386.5">74.07%</text><text x="482.5" y="431.5">91.30%</text>
</g>
<rect x="0" y="0" width="515" height="450" fill="none" stroke="#444" stroke-width="1.4"/>
<path d="M-7 22.5H0M-7 67.5H0M-7 112.5H0M-7 157.5H0M-7 202.5H0M-7 247.5H0M-7 292.5H0M-7 337.5H0M-7 382.5H0M-7 427.5H0M22.5 450V457.5M67.5 450V457.5M112.5 450V457.5M157.5 450V457.5M202.5 450V457.5M247.5 450V457.5M292.5 450V457.5M337.5 450V457.5M382.5 450V457.5M427.5 450V457.5" stroke="#222" stroke-width="1.6"/>
<g font-size="21" fill="#111" text-anchor="end">
<text x="-12" y="30">0</text><text x="-12" y="75">1</text><text x="-12" y="120">2</text><text x="-12" y="165">3</text><text x="-12" y="210">4</text><text x="-12" y="255">5</text><text x="-12" y="300">6</text><text x="-12" y="345">7</text><text x="-12" y="390">8</text><text x="-12" y="435">9</text>
</g>
<g font-size="22" fill="#111" text-anchor="middle">
<text x="22.5" y="477.7">0</text><text x="67.5" y="477.7">1</text><text x="112.5" y="477.7">2</text><text x="157.5" y="477.7">3</text><text x="202.5" y="477.7">4</text><text x="247.5" y="477.7">5</text><text x="292.5" y="477.7">6</text><text x="337.5" y="477.7">7</text><text x="382.5" y="477.7">8</text><text x="427.5" y="477.7">9</text>
<text x="487" y="476.7" font-size="21">Acc.</text><text x="487" y="497.7" font-size="21">per</text><text x="487" y="517" font-size="21">class</text>
</g>
</g>
<text x="1714" y="1018" font-size="28" text-anchor="middle" textLength="196" lengthAdjust="spacingAndGlyphs" fill="#111">Predicted Label</text>
<text transform="translate(1434,734) rotate(-90)" font-size="28" text-anchor="middle" textLength="134" lengthAdjust="spacingAndGlyphs" fill="#111">True Label</text>
<rect x="1427" y="946" width="55" height="48" fill="#000"/>
<text x="1454.5" y="986" font-size="38" font-weight="bold" fill="#fff" text-anchor="middle">(e)</text>
</svg>
</body></html>
